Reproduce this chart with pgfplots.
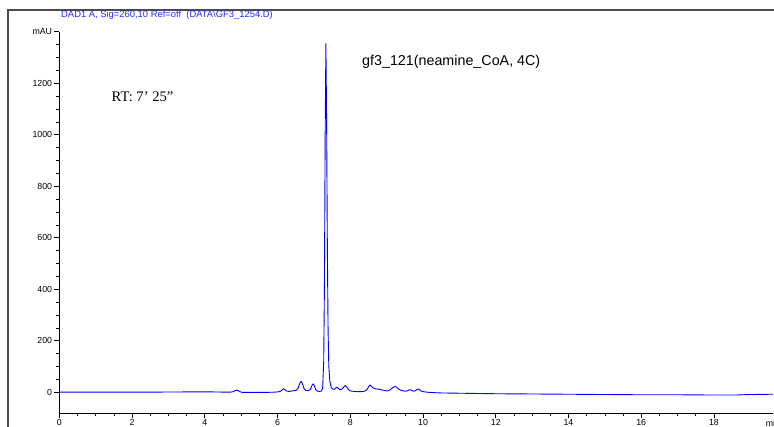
\documentclass[border=0pt]{standalone}
\usepackage{fontspec}
\setmainfont{Liberation Sans}
\newfontfamily\timesf{Liberation Serif}
\usepackage{pgfplots}
\pgfplotsset{compat=1.18}
\definecolor{dadblue}{RGB}{0,0,255}
\definecolor{titleblue}{RGB}{40,40,255}
\begin{document}
\begin{tikzpicture}[x=1pt,y=1pt]
\useasboundingbox (0,0) rectangle (774,426);
\draw[line width=1.2pt, black!70] (8,-20) -- (8,416) -- (820,416);
\begin{axis}[
  at={(59.3pt,12.7pt)}, anchor=south west,
  scale only axis, width=713.6pt, height=381.6pt,
  xmin=0, xmax=19.62, ymin=-82, ymax=1400,
  axis lines=left, axis line style={-, line width=0.6pt},
  tick align=outside,
  major tick length=5pt, minor tick length=3pt,
  tick style={black, line width=0.6pt},
  xtick={0,2,...,18}, minor x tick num=3,
  ytick={0,200,...,1400}, yticklabels={0,200,400,600,800,1000,1200,mAU},
  minor y tick num=3,
  /pgf/number format/assume math mode=true,
  tick label style={font=\fontsize{8.8}{10}\selectfont},
  xticklabel style={inner sep=1.2pt},
  yticklabel style={inner sep=2pt},
  clip=false,
]
\addplot[dadblue, line width=0.9pt, mark=none] coordinates {
(0,0) (1,0) (2,0) (2.8,0.5) (3.5,1) (4.2,1) (4.7,0)
(4.78,2) (4.83,6) (4.87,8) (4.92,6) (4.97,2) (5.03,-1) (5.2,-1) (5.6,-1) (5.9,0) (6.0,1)
(6.05,2) (6.10,5) (6.14,11) (6.17,13) (6.21,9) (6.26,4) (6.32,3) (6.40,5) (6.46,6) (6.52,8)
(6.56,14) (6.60,30) (6.63,40) (6.66,41) (6.69,30) (6.73,14) (6.78,7) (6.84,6) (6.90,10)
(6.93,20) (6.96,30) (6.98,32) (7.01,26) (7.05,10) (7.10,4) (7.15,3)
(7.20,4) (7.24,15) (7.27,120) (7.29,420) (7.31,1000) (7.33,1355) (7.35,1050) (7.37,560)
(7.39,240) (7.41,100) (7.44,40) (7.48,18) (7.52,12) (7.56,11)
(7.60,16) (7.63,19) (7.66,16) (7.70,11) (7.75,10) (7.79,15)
(7.82,20) (7.86,26) (7.90,20) (7.95,10) (8.00,5) (8.10,3) (8.20,2) (8.30,2) (8.40,4) (8.46,10)
(8.50,20) (8.54,28) (8.58,24) (8.63,16) (8.70,13) (8.80,11) (8.90,8) (9.00,5) (9.06,6) (9.12,12)
(9.17,18) (9.22,22) (9.27,20) (9.33,12) (9.40,7) (9.46,5) (9.52,4)
(9.57,5) (9.62,9) (9.66,9) (9.71,5) (9.76,4)
(9.81,8) (9.86,12) (9.89,12) (9.93,6) (9.98,3) (10.05,1) (10.2,-1) (10.5,-3)
(11,-4) (12,-6) (13,-7) (14,-8) (15,-9) (16,-10) (17,-10) (18,-11) (18.6,-11) (19,-9) (19.62,-8)
};
\node[anchor=north, font=\fontsize{8.8}{10}\selectfont, inner sep=1.2pt] at (axis cs:19.62,-82) [yshift=-5pt] {min};
\end{axis}
\node[anchor=west, text=titleblue, font=\fontsize{9.4}{11}\selectfont, inner sep=0pt] at (61,411) {DAD1 A, Sig=260,10 Ref=off\ \ (DATA\textbackslash GF3\_1254.D)};
\node[anchor=west, font=\fontsize{14.3}{16}\selectfont, inner sep=0pt] at (362,364) {gf3\_121(neamine\_CoA, 4C)};
\node[anchor=west, font=\timesf\fontsize{14.6}{17}\selectfont, inner sep=0pt] at (111.5,329) {RT: 7’ 25”};
\end{tikzpicture}
\end{document}
